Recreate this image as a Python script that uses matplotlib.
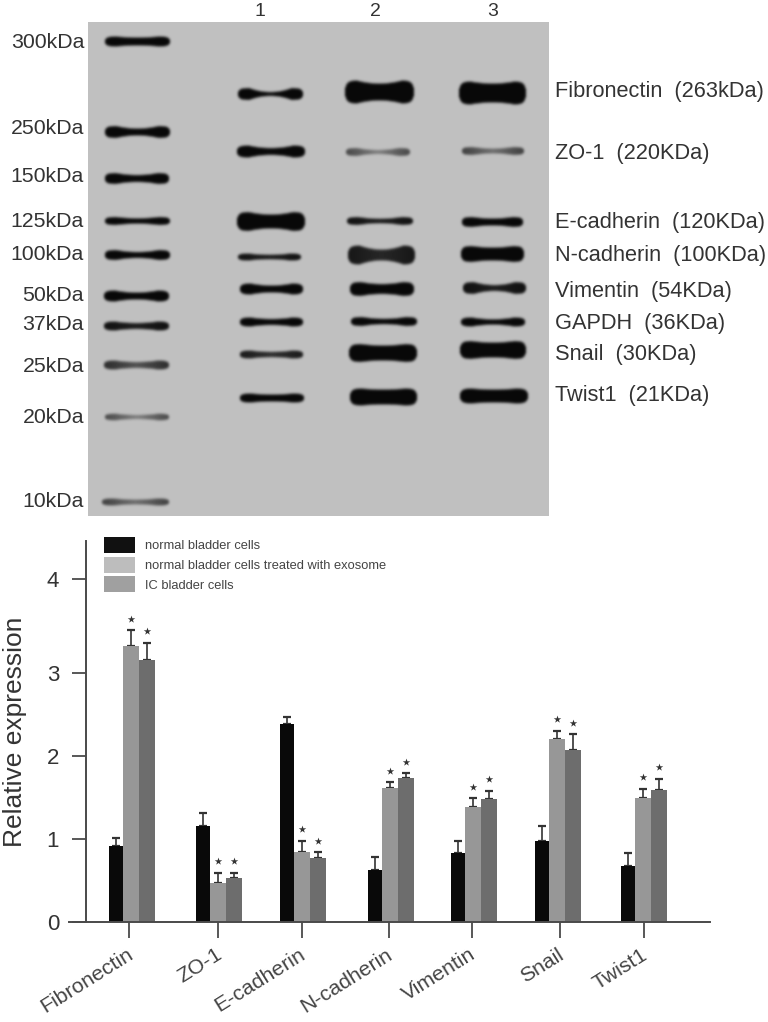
import numpy as np
import matplotlib
matplotlib.use('Agg')
import matplotlib.pyplot as plt
from matplotlib.patches import Patch
from matplotlib.transforms import ScaledTranslation

plt.rcParams['font.family'] = ['Liberation Sans', 'DejaVu Sans']

# === Blot labels ===
ladder_labels = ['300kDa', '250kDa', '150kDa', '125kDa', '100kDa', '50kDa', '37kDa', '25kDa', '20kDa', '10kDa']
ladder_label_y = [41, 127, 175, 220, 253, 294, 323, 365, 416, 500]
protein_labels = ['Fibronectin  (263kDa)', 'ZO-1  (220KDa)', 'E-cadherin  (120KDa)', 'N-cadherin  (100KDa)',
                  'Vimentin  (54KDa)', 'GAPDH  (36KDa)', 'Snail  (30KDa)', 'Twist1  (21KDa)']
protein_label_y = [90, 152, 221, 254, 290, 322, 353, 394]
lane_labels = ['1', '2', '3']
lane_label_x = [260, 375, 493]

# === Blot bands: y, left, right, lobe half height, middle half height, darkness (picture pixels) ===
ladder_bands = [(41.5, 105, 170, 4.5, 3.5, 1.0), (132, 105, 170, 5.5, 3, 1.0), (178.5, 105, 169, 5, 3, 1.0),
                (221, 105, 170, 3.5, 2.2, 1.0), (255, 105, 170, 4.5, 2.5, 1.0), (296, 104, 169, 5, 3, 1.0),
                (326, 104, 169, 4, 2.5, 0.95), (365, 104, 169, 4, 2.5, 0.8), (417, 105, 169, 2.8, 1.5, 0.65),
                (502, 102, 169, 3, 2, 0.7)]
lane1_bands = [(94, 238, 303, 5.5, 1.5, 1.0), (151.5, 237, 305, 5.5, 3, 1.0), (221.5, 237, 305, 9, 6.5, 1.0),
               (257, 238, 301, 3, 1.8, 0.95), (289, 240, 303, 5, 3, 1.0), (322, 240, 303, 4, 2.5, 1.0),
               (354.5, 240, 303, 3.5, 2.2, 0.9), (398, 240, 304, 4, 3, 1.0)]
lane2_bands = [(92, 345, 414, 11, 8, 1.0), (152, 346, 410, 3.5, 1.5, 0.65), (221, 347, 413, 3.5, 1.8, 0.95),
               (255, 348, 415, 9, 5, 0.92), (289, 350, 414, 6.5, 4.5, 1.0), (321.5, 351, 417, 4, 2.2, 1.0),
               (353, 349, 417, 8.5, 7, 1.0), (397, 350, 417, 8, 7, 1.0)]
lane3_bands = [(93, 459, 526, 11, 9, 1.0), (151, 462, 524, 3.5, 2, 0.7), (222, 462, 523, 4.5, 3, 1.0),
               (254, 461, 524, 7.5, 6, 1.0), (288, 463, 526, 5.5, 2.5, 0.95), (322, 461, 525, 4, 2.2, 1.0),
               (350, 460, 526, 8.5, 7, 1.0), (396, 460, 528, 7, 6, 1.0)]

# === Bar chart data ===
categories = ['Fibronectin', 'ZO-1', 'E-cadherin', 'N-cadherin', 'Vimentin', 'Snail', 'Twist1']
normal_vals = [0.91, 1.16, 2.38, 0.63, 0.83, 0.97, 0.67]
normal_tops = [1.01, 1.31, 2.47, 0.78, 0.97, 1.16, 0.83]
exosome_vals = [3.32, 0.47, 0.84, 1.61, 1.38, 2.20, 1.49]
exosome_tops = [3.51, 0.59, 0.98, 1.68, 1.49, 2.30, 1.60]
ic_vals = [3.15, 0.53, 0.77, 1.73, 1.48, 2.07, 1.59]
ic_tops = [3.36, 0.59, 0.84, 1.79, 1.58, 2.26, 1.72]
legend_labels = ['normal bladder cells', 'normal bladder cells treated with exosome', 'IC bladder cells']

# bar axis runs in picture pixels, groups are not evenly spaced in the original
group_left = [109, 196, 280, 368, 451, 535, 621]
tick_x = [129, 218, 302, 389, 472, 560, 644]
# tick for 4 sits higher than the regular spacing in the original
ytick_pos = [0, 1, 2, 3, 4.13]
ytick_labels = ['0', '1', '2', '3', '4']

W, H = 768, 1022
fig = plt.figure(figsize=(W / 100, H / 100), dpi=100)


def fig_text(x, y, s, **kw):
    fig.text(x / W, 1 - y / H, s, color='#333333', **kw)


# === Blot panel ===
gel_l, gel_r, gel_t, gel_b = 88, 549, 22, 516
ax_blot = fig.add_axes([gel_l / W, 1 - gel_b / H, (gel_r - gel_l) / W, (gel_b - gel_t) / H])
xx, yy = np.meshgrid(np.arange(gel_l, gel_r) + 0.5, np.arange(gel_t, gel_b) + 0.5)
gel = np.full(xx.shape, 192.0)
for yc, left, right, lobe, mid, dark in ladder_bands + lane1_bands + lane2_bands + lane3_bands:
    u = np.clip((xx - (left + right) / 2) / ((right - left) / 2), -1, 1)
    half = (mid + (lobe - mid) * np.minimum(np.abs(u) / 0.65, 1) ** 2) * np.sqrt(1 - np.abs(u) ** 12) + 0.4
    mask = np.clip((half - np.abs(yy - yc)) / 1.5 + 0.5, 0, 1) * (np.abs(u) < 1)
    strength = dark * (1 - (1 - dark) * 1.2 * (1 - np.abs(u)))
    gel = gel * (1 - mask * strength) + 8 * mask * strength

# soften the band edges like the scanned film
kernel = np.exp(-0.5 * (np.arange(-4, 5) / 1.3) ** 2)
kernel = kernel / kernel.sum()
gel = np.apply_along_axis(lambda row: np.convolve(row, kernel, mode='same'), 1, np.pad(gel, 4, mode='edge'))
gel = np.apply_along_axis(lambda col: np.convolve(col, kernel, mode='same'), 0, gel)[4:-4, 4:-4]

ax_blot.imshow(gel, cmap='gray', vmin=0, vmax=255, extent=(gel_l, gel_r, gel_b, gel_t),
               aspect='auto', interpolation='bilinear')
ax_blot.axis('off')

for label, y in zip(ladder_labels, ladder_label_y):
    fig_text(84, y + 1.5, label, fontsize=15.3, ha='right', va='center')
for label, y in zip(protein_labels, protein_label_y):
    fig_text(555, y + 1.5, label, fontsize=15.7, ha='left', va='center')
for label, x in zip(lane_labels, lane_label_x):
    fig_text(x, 11, label, fontsize=14, ha='center', va='center')

# === Bar chart ===
px_per_unit = 83.1
ax_l, ax_r, ax_zero, ax_top = 85.5, 710, 922, 541
ax = fig.add_axes([ax_l / W, 1 - ax_zero / H, (ax_r - ax_l) / W, (ax_zero - ax_top) / H])
ax.set_xlim(ax_l, ax_r)
ax.set_ylim(0, (ax_zero - ax_top) / px_per_unit)

left = np.array(group_left, dtype=float)
series = [
    (left, 14.5, normal_vals, normal_tops, '#090909'),
    (left + 14.5, 15.5, exosome_vals, exosome_tops, '#979797'),
    (left + 30, 16, ic_vals, ic_tops, '#6d6d6d'),
]
for i, (x, w, vals, tops, color) in enumerate(series):
    vals, tops = np.array(vals), np.array(tops)
    centers = x + w / 2
    ax.bar(x, vals, width=w, align='edge', color=color, zorder=3)
    ax.errorbar(centers, vals, yerr=[np.zeros(len(vals)), tops - vals], fmt='none', ecolor='#333333',
                elinewidth=1.2, capsize=3.2, capthick=1.6, zorder=2)
    if i > 0:
        ax.scatter(centers, tops + 0.14, marker='*', s=32, color='#333333', linewidths=0, zorder=4)

for side in ['top', 'right']:
    ax.spines[side].set_visible(False)
for side in ['left', 'bottom']:
    ax.spines[side].set_color('#4a4a4a')
    ax.spines[side].set_linewidth(1.4)
    ax.spines[side].set_zorder(5)
ax.spines['bottom'].set_bounds(69, ax_r)

ax.set_yticks(ytick_pos, ytick_labels)
ax.tick_params(axis='y', length=10, width=1.3, color='#4a4a4a', pad=9, labelsize=16, labelcolor='#333333')
ax.set_xticks(tick_x, categories)
ax.tick_params(axis='x', length=11.5, width=1.3, color='#4a4a4a', pad=5, labelsize=15.3, labelcolor='#444444')
shift = ScaledTranslation(-3 / 100, 0, fig.dpi_scale_trans)
for lab in ax.get_xticklabels():
    lab.set_rotation(32)
    lab.set_ha('right')
    lab.set_va('top')
    lab.set_rotation_mode('anchor')
    lab.set_transform(lab.get_transform() + shift)

fig_text(15, 732, 'Relative expression', fontsize=19, rotation=90, ha='center', va='center')

handles = [Patch(color=c, lw=0) for c in ['#111111', '#bdbdbd', '#a0a0a0']]
ax.legend(handles, legend_labels, loc='upper left', bbox_to_anchor=(104 / W, 1 - 537 / H),
          bbox_transform=fig.transFigure, frameon=False, fontsize=9.3, labelcolor='#444444', borderpad=0,
          borderaxespad=0, handlelength=2.4, handleheight=1.53, handletextpad=0.78, labelspacing=0.28)

fig.savefig('out.png', dpi=100)
